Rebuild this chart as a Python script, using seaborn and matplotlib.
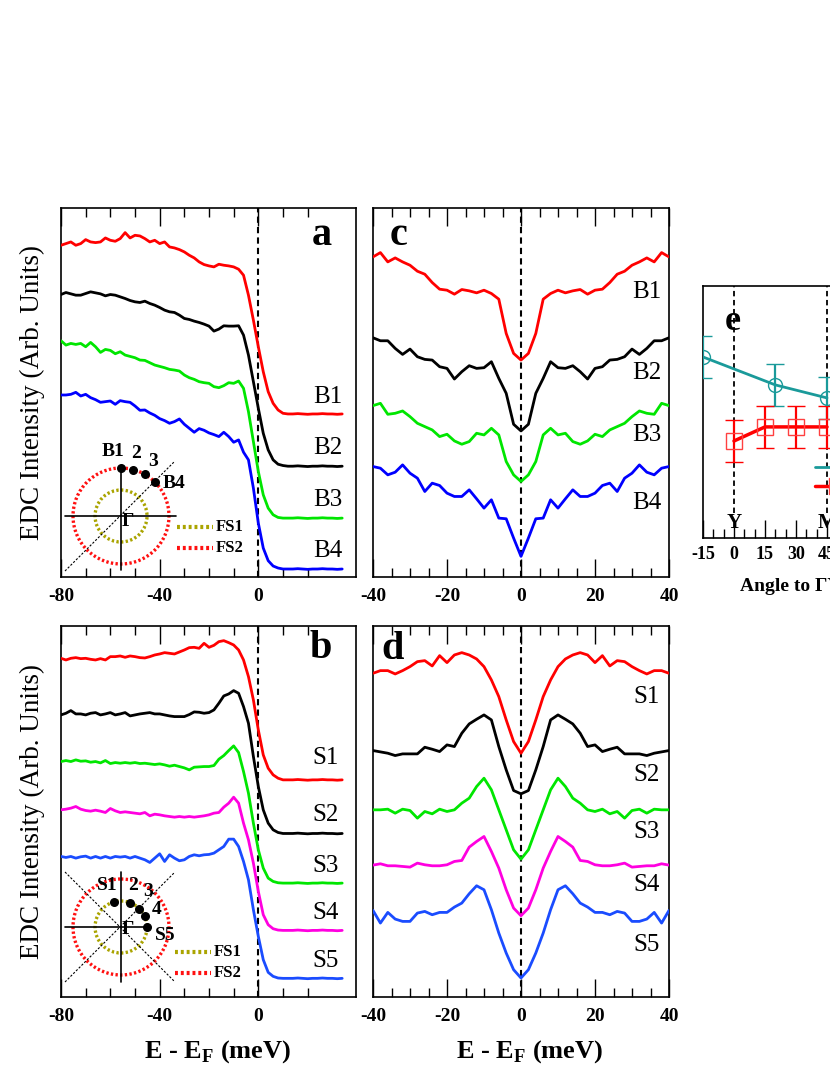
import numpy as np
import pandas as pd
import matplotlib
matplotlib.use("Agg")
import matplotlib.pyplot as plt
import seaborn as sns
from matplotlib.patches import Circle
from matplotlib.lines import Line2D
from matplotlib.ticker import FixedLocator

# ---------------------------------------------------------------- data
# EDC energy grid (meV), panels a and b
energy_edc = np.arange(-80, 36, 2)

# panel a : EDCs along cut B (vertically offset, arb. units)
edc_B1 = [997, 1002, 1007, 997, 1002, 1014, 1007, 1005, 1007, 1019,
          1012, 1009, 1017, 1035, 1019, 1027, 1025, 1017, 1007, 1012,
          1002, 1007, 992, 989, 984, 977, 967, 959, 947, 939,
          935, 932, 940, 937, 935, 932, 925, 907, 847, 772,
          692, 617, 557, 522, 502, 492,
          490, 490, 491, 490, 489, 490, 490, 491, 490, 490, 489, 490]
edc_B2 = [849, 855, 851, 847, 847, 852, 857, 854, 851, 845,
          849, 847, 842, 837, 831, 827, 825, 829, 822, 817,
          810, 802, 797, 795, 787, 777, 774, 769, 765, 760,
          754, 739, 745, 755, 754, 754, 755, 727, 667, 587,
          507, 432, 382, 352, 339, 335,
          333, 333, 334, 333, 332, 333, 333, 334, 333, 333, 332, 333]
edc_B3 = [710, 697, 702, 699, 702, 692, 705, 692, 675, 684,
          681, 671, 677, 667, 663, 659, 652, 651, 644, 637,
          633, 629, 624, 622, 619, 607, 599, 594, 587, 584,
          582, 572, 569, 575, 584, 582, 589, 567, 497, 407,
          317, 247, 207, 187, 179, 177,
          177, 177, 178, 177, 176, 177, 177, 178, 177, 177, 176, 177]
edc_B4 = [547, 547, 549, 555, 544, 549, 539, 533, 525, 527,
          529, 519, 530, 527, 525, 514, 501, 502, 493, 486,
          476, 470, 462, 467, 475, 459, 447, 435, 446, 441,
          433, 428, 422, 435, 422, 405, 412, 375, 352, 267,
          162, 87, 49, 33, 27, 24,
          24, 24, 25, 24, 23, 24, 24, 25, 24, 24, 23, 24]

# panel b : EDCs along cut S
edc_S1 = [1017, 1012, 1017, 1019, 1016, 1017, 1014, 1012, 1016, 1012,
          1022, 1022, 1024, 1020, 1024, 1022, 1019, 1018, 1022, 1027,
          1030, 1034, 1032, 1030, 1036, 1042, 1049, 1050, 1047, 1062,
          1050, 1056, 1067, 1070, 1064, 1057, 1042, 1012, 962, 892,
          802, 727, 687, 667, 657, 652,
          652, 652, 653, 652, 651, 652, 652, 653, 652, 652, 651, 652]
edc_S2 = [847, 852, 860, 850, 850, 847, 852, 854, 847, 850,
          854, 847, 850, 854, 844, 847, 850, 852, 854, 850,
          850, 847, 844, 842, 842, 842, 848, 856, 855, 852,
          854, 862, 882, 904, 910, 920, 912, 872, 822, 722,
          632, 562, 522, 502, 494, 491,
          491, 491, 492, 491, 490, 491, 491, 492, 491, 491, 490, 491]
edc_S3 = [707, 710, 707, 712, 708, 709, 705, 707, 703, 710,
          701, 704, 702, 704, 702, 704, 701, 702, 700, 698,
          700, 697, 693, 696, 692, 688, 682, 690, 691, 692,
          692, 695, 714, 725, 740, 754, 734, 677, 612, 522,
          442, 387, 357, 347, 343, 342,
          342, 342, 343, 342, 341, 342, 342, 343, 342, 342, 341, 342]
edc_S4 = [562, 564, 567, 572, 564, 560, 558, 561, 558, 554,
          566, 559, 554, 556, 554, 552, 550, 554, 544, 549,
          547, 544, 542, 540, 542, 540, 542, 540, 542, 544,
          547, 552, 554, 570, 582, 600, 582, 522, 472, 402,
          317, 247, 217, 205, 201, 200,
          200, 200, 201, 200, 199, 200, 200, 201, 200, 200, 199, 200]
edc_S5 = [422, 419, 422, 417, 421, 423, 417, 422, 417, 422,
          417, 422, 420, 422, 417, 422, 417, 412, 404, 417,
          430, 407, 427, 417, 409, 412, 422, 427, 424, 427,
          428, 432, 442, 452, 474, 474, 452, 407, 352, 262,
          182, 112, 74, 62, 57, 56,
          56, 56, 57, 56, 55, 56, 56, 57, 56, 56, 55, 56]

# symmetrized EDCs (panels c, d): values for E = 0, 2, ..., 40 meV;
# I(E) = I(-E) by construction of the symmetrization
energy_half = np.arange(0, 42, 2)
sym_B1 = [652, 672, 732, 835, 852, 862, 854, 860, 864, 850, 862, 865, 885, 910, 919, 937, 947, 959, 947, 975, 962]
sym_B2 = [439, 459, 552, 597, 647, 629, 627, 635, 617, 595, 627, 632, 652, 654, 662, 685, 669, 687, 710, 710, 719]
sym_B3 = [287, 307, 347, 427, 447, 427, 432, 407, 399, 409, 429, 422, 442, 452, 462, 482, 499, 492, 489, 522, 515]
sym_B4 = [62, 117, 175, 177, 232, 207, 235, 262, 242, 242, 252, 275, 282, 257, 297, 312, 337, 315, 307, 327, 332]
sym_S1 = [732, 767, 832, 902, 952, 992, 1015, 1027, 1034, 1027, 1004, 1025, 994, 1010, 1007, 992, 980, 970, 980, 980, 972]
sym_S2 = [610, 620, 682, 752, 832, 847, 834, 820, 792, 752, 757, 737, 744, 750, 730, 730, 730, 725, 732, 736, 740]
sym_S3 = [414, 442, 502, 562, 622, 657, 632, 597, 582, 562, 557, 564, 550, 557, 537, 560, 564, 552, 564, 562, 562]
sym_S4 = [244, 267, 322, 387, 437, 482, 467, 450, 410, 407, 397, 394, 394, 397, 402, 390, 392, 394, 394, 400, 396]
sym_S5 = [57, 82, 132, 192, 262, 322, 334, 310, 282, 270, 254, 254, 247, 257, 252, 227, 227, 234, 254, 222, 260]

labels_B = ["B1", "B2", "B3", "B4"]
labels_S = ["S1", "S2", "S3", "S4", "S5"]

# panel e : gap vs angle to Gamma-Y
angle_fs1 = [-15, 20, 45]
gap_fs1 = [8.62, 7.29, 6.67]
err_fs1 = [0.98, 1.0, 1.02]
angle_fs2 = [0, 15, 30, 45]
gap_fs2 = [4.62, 5.29, 5.29, 5.29]
err_fs2 = [1.0, 1.0, 1.0, 1.0]

# schematic insets: k-point angles (deg) on the Fermi surfaces
angles_B = [90, 75, 60, 45]          # on FS2
angles_S = [105, 70, 45, 25, 0]      # on FS1
inset_B_names = ["B1", "2", "3", "B4"]
inset_S_names = ["S1", "2", "3", "4", "S5"]

# ---------------------------------------------------------------- style
sns.set_theme(style="ticks")
plt.rcParams.update({
    "font.family": ["Liberation Serif", "DejaVu Serif"],
    "mathtext.fontset": "custom",
    "mathtext.rm": "Liberation Serif",
    "mathtext.bf": "Liberation Serif:bold",
    "axes.unicode_minus": False,
    "text.color": "black",
    "axes.labelcolor": "black",
    "xtick.color": "black",
    "ytick.color": "black",
    "axes.edgecolor": "black",
    "axes.linewidth": 1.2,
})

W, H = 830, 1075
fig = plt.figure(figsize=(W / 100, H / 100), dpi=100)


def px_axes(x0, y0, x1, y1, **kw):
    return fig.add_axes([x0 / W, 1 - y1 / H, (x1 - x0) / W, (y1 - y0) / H], **kw)


def style_energy(ax, xlim, ylim, major, minor):
    ax.set_xlim(*xlim)
    ax.set_ylim(*ylim)
    ax.set_xticks(major)
    ax.set_xticklabels([str(t) for t in major], fontsize=14, fontweight="bold")
    ax.xaxis.set_minor_locator(FixedLocator(minor))
    ax.set_yticks([])
    ax.tick_params(axis="x", which="both", direction="in", top=True, bottom=True,
                   width=1.0, pad=8)
    ax.tick_params(axis="x", which="major", length=13)
    ax.tick_params(axis="x", which="minor", length=6.5)
    for s in ax.spines.values():
        s.set_visible(True)
        s.set_linewidth(1.2)
        s.set_color("black")
    ax.axvline(0, color="black", ls=(0, (3, 2)), lw=1.5, zorder=1)
    ax.set_xlabel("")
    ax.set_ylabel("")


colors_B = ["#ff0000", "#000000", "#00e600", "#0000ff"]
colors_S = ["#ff0000", "#000000", "#00e600", "#ff00e0", "#1a4cff"]

# ---- panel a
ax_a = px_axes(61, 208, 356, 577)
for vals, col in zip([edc_B1, edc_B2, edc_B3, edc_B4], colors_B):
    sns.lineplot(x=energy_edc, y=vals, ax=ax_a, color=col, lw=2.0, zorder=3)
style_energy(ax_a, (-80, 39.6), (0, 1109), [-80, -40, 0], [-70, -60, -50, -30, -20, -10, 10, 20])
for name, yy in zip(labels_B, [542, 387, 232, 77]):
    ax_a.text(34.3, yy, name, ha="right", va="center", fontsize=18)
ax_a.text(0.885, 0.9, "a", transform=ax_a.transAxes, ha="center", va="baseline",
          fontsize=29, fontweight="bold")
ax_a.set_ylabel("EDC Intensity (Arb. Units)", fontsize=19.5, va="center")
ax_a.yaxis.set_label_coords(-0.098, 0.5)

# ---- panel b
ax_b = px_axes(61, 626, 356, 997)
for vals, col in zip([edc_S1, edc_S2, edc_S3, edc_S4, edc_S5], colors_S):
    sns.lineplot(x=energy_edc, y=vals, ax=ax_b, color=col, lw=2.0, zorder=3)
style_energy(ax_b, (-80, 39.6), (0, 1114), [-80, -40, 0], [-70, -60, -50, -30, -20, -10, 10, 20])
for name, yy in zip(labels_S, [717, 547, 394, 252, 107]):
    ax_b.text(32.6, yy, name, ha="right", va="center", fontsize=18)
ax_b.text(0.88, 0.913, "b", transform=ax_b.transAxes, ha="center", va="baseline",
          fontsize=29, fontweight="bold")
ax_b.set_ylabel("EDC Intensity (Arb. Units)", fontsize=19.5, va="center")
ax_b.yaxis.set_label_coords(-0.098, 0.5)
ax_b.set_xlabel(r"E - E$_{\mathbf{F}}$ (meV)", fontsize=19, fontweight="bold", va="center")
ax_b.xaxis.set_label_coords(0.53, -0.148)

# ---- panel c
energy_sym = np.concatenate([-energy_half[:0:-1], energy_half])
ax_c = px_axes(373, 208, 669, 577)
for half, col in zip([sym_B1, sym_B2, sym_B3, sym_B4], colors_B):
    vals = np.concatenate([np.asarray(half)[:0:-1], half])
    sns.lineplot(x=energy_sym, y=vals, ax=ax_c, color=col, lw=2.0, zorder=3)
style_energy(ax_c, (-40, 40), (0, 1109), [-40, -20, 0, 20, 40],
             [-35, -30, -25, -15, -10, -5, 5, 10, 15, 25, 30, 35])
for name, yy in zip(labels_B, [857, 612, 427, 222]):
    ax_c.text(38, yy, name, ha="right", va="center", fontsize=18)
ax_c.text(0.085, 0.9, "c", transform=ax_c.transAxes, ha="center", va="baseline",
          fontsize=29, fontweight="bold")

# ---- panel d
ax_d = px_axes(373, 626, 669, 997)
for half, col in zip([sym_S1, sym_S2, sym_S3, sym_S4, sym_S5], colors_S):
    vals = np.concatenate([np.asarray(half)[:0:-1], half])
    sns.lineplot(x=energy_sym, y=vals, ax=ax_d, color=col, lw=2.0, zorder=3)
style_energy(ax_d, (-40, 40), (0, 1114), [-40, -20, 0, 20, 40],
             [-35, -30, -25, -15, -10, -5, 5, 10, 15, 25, 30, 35])
for name, yy in zip(labels_S, [900, 667, 495, 337, 157]):
    ax_d.text(37.6, yy, name, ha="right", va="center", fontsize=18)
ax_d.text(0.065, 0.91, "d", transform=ax_d.transAxes, ha="center", va="baseline",
          fontsize=29, fontweight="bold")
ax_d.set_xlabel(r"E - E$_{\mathbf{F}}$ (meV)", fontsize=19, fontweight="bold", va="center")
ax_d.xaxis.set_label_coords(0.53, -0.148)

# ---- panel e (extends past the right border, as in the original)
teal = "#1a9a9a"
ax_e = px_axes(703, 286, 951, 538)
ax_e.set_xlim(-15, 105)
ax_e.set_ylim(0, 12)
sns.lineplot(x=angle_fs1, y=gap_fs1, ax=ax_e, color=teal, lw=2.0, zorder=3)
sns.lineplot(x=angle_fs2, y=gap_fs2, ax=ax_e, color="#ff0000", lw=2.5, zorder=3)
ax_e.errorbar(angle_fs1, gap_fs1, yerr=err_fs1, fmt="o", ms=10, mfc="none", mec=teal,
              ecolor=teal, elinewidth=1.6, capsize=6.5, capthick=1.6, mew=1.0, zorder=4)
ax_e.errorbar(angle_fs2, gap_fs2, yerr=err_fs2, fmt="s", ms=11.5, mfc="none", mec="#ff4040",
              ecolor="#ff0000", elinewidth=1.6, capsize=6.5, capthick=1.6, mew=1.0, zorder=4)
ax_e.set_xticks([-15, 0, 15, 30, 45, 60, 75, 90, 105])
ax_e.set_xticklabels(["-15", "0", "15", "30", "45", "60", "75", "90", "105"],
                     fontsize=13, fontweight="bold")
ax_e.xaxis.set_minor_locator(FixedLocator([-10, -5, 5, 10, 20, 25, 35, 40, 50, 55, 65, 70, 80, 85, 95, 100]))
ax_e.set_yticks([])
ax_e.tick_params(axis="x", which="both", direction="in", top=False, bottom=True, width=1.0, pad=6)
ax_e.tick_params(axis="x", which="major", length=13)
ax_e.tick_params(axis="x", which="minor", length=6.5)
for s in ax_e.spines.values():
    s.set_visible(True)
    s.set_linewidth(1.2)
for xv in (0, 45):
    ax_e.axvline(xv, ymin=0.1, ymax=1, color="black", ls=(0, (3, 2)), lw=1.3, zorder=1)
ax_e.text(0, 0.04, "Y", transform=ax_e.get_xaxis_transform(), ha="center", va="baseline",
          fontsize=15, fontweight="bold")
ax_e.text(45, 0.04, "M", transform=ax_e.get_xaxis_transform(), ha="center", va="baseline",
          fontsize=15, fontweight="bold")
ax_e.text(0.12, 0.825, "e", transform=ax_e.transAxes, ha="center", va="baseline",
          fontsize=26, fontweight="bold")
ax_e.set_xlabel("Angle to \u0393Y (degree)", fontsize=14, fontweight="bold", va="center")
ax_e.xaxis.set_label_coords(0.5, -0.19)
ax_e.set_ylabel("")
handles = [Line2D([], [], color=teal, lw=2.0, marker="o", ms=10, mfc="none", mec=teal),
           Line2D([], [], color="#ff0000", lw=2.5, marker="s", ms=11.5, mfc="none", mec="#ff4040")]
ax_e.legend(handles, ["FS1", "FS2"], loc="upper left", bbox_to_anchor=(0.452, 0.31),
            frameon=False, borderaxespad=0, borderpad=0, handlelength=2.4,
            labelspacing=0.15, prop={"size": 13, "weight": "bold"})

# ---------------------------------------------------------------- insets
olive = "#aaa400"
dot_ls = (0, (0.7, 0.7))


def fermi_inset(box, cx, cy, r1, r2, on_radius, angles, names, name_pos,
                gamma_pos, hline, vline, diags, leg_x, leg_y):
    ax = px_axes(*box)
    ax.set_xlim(box[0], box[2])
    ax.set_ylim(box[3], box[1])
    ax.axis("off")
    ax.patch.set_alpha(0)
    ax.set_zorder(5)
    for (xa, ya, xb, yb) in diags:
        ax.plot([xa, xb], [ya, yb], color="black", lw=0.8, ls=(0, (2, 1.5)))
    ax.plot(hline[:2], [cy, cy], color="black", lw=1.2)
    ax.plot([cx, cx], vline, color="black", lw=1.2)
    ax.add_patch(Circle((cx, cy), r2, fill=False, ec="#ff1010", lw=2.4, ls=dot_ls))
    ax.add_patch(Circle((cx, cy), r1, fill=False, ec=olive, lw=2.4, ls=dot_ls))
    ang = np.deg2rad(angles)
    ax.scatter(cx + on_radius * np.cos(ang), cy - on_radius * np.sin(ang), s=30,
               color="black", zorder=6)
    for nm, (tx, ty) in zip(names, name_pos):
        ax.text(tx, ty, nm, ha="center", va="center", fontsize=14, fontweight="bold")
    ax.text(gamma_pos[0], gamma_pos[1], "\u0393", ha="center", va="center",
            fontsize=14, fontweight="bold")
    for lab, col, yy in zip(["FS1", "FS2"], [olive, "#ff1010"], leg_y):
        ax.plot([leg_x, leg_x + 36], [yy, yy], color=col, lw=3, ls=dot_ls)
        ax.text(leg_x + 39, yy, lab, ha="left", va="center", fontsize=12, fontweight="bold")


fermi_inset((55, 435, 260, 580), 121, 516, 26, 48, 48, angles_B, inset_B_names,
            [(113, 452), (136, 453), (153, 461), (174, 484)], (128, 521),
            (65, 176), (467, 570), [(65, 571, 175, 461)], 177, [527, 548])

fermi_inset((55, 860, 260, 995), 121, 927, 26, 48, 26, angles_S, inset_S_names,
            [(107, 885), (133, 885), (148, 892), (157, 910), (165, 935)], (128, 930),
            (65, 147), (872, 982), [(65, 872, 175, 982), (65, 982, 175, 872)], 175, [952, 973])

fig.savefig("out.png", dpi=100)
